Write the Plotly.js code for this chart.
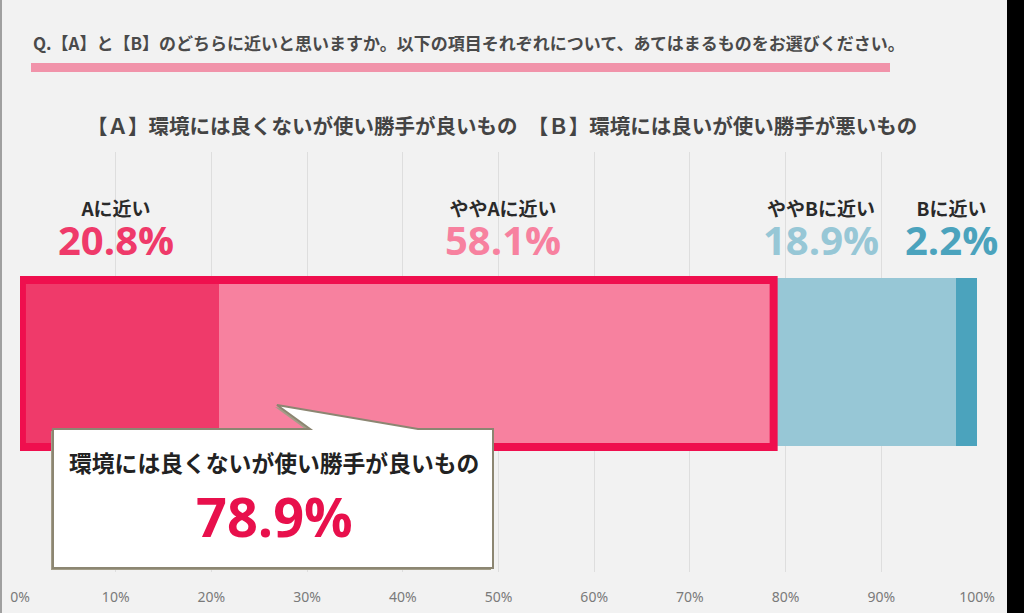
<!DOCTYPE html>
<html>
<head>
<meta charset="utf-8">
<script src="https://cdn.plot.ly/plotly-3.0.1.min.js"></script>
<style>
  html, body { margin: 0; padding: 0; background: #f2f2f2; }
  #chart { width: 1024px; height: 613px; }
</style>
</head>
<body>
<div id="chart"></div>
<script>
// answer categories and shares (%)
const categories = ['Aに近い', 'ややAに近い', 'ややBに近い', 'Bに近い'];
const shares = [20.8, 58.1, 18.9, 2.2];
const barColors = ['#ef3a6a', '#f7819f', '#97c7d6', '#4ba3bd'];
const tickValues = [0, 10, 20, 30, 40, 50, 60, 70, 80, 90, 100];
const tickLabels = tickValues.map(v => v + '%');

const questionText = 'Q.【A】と【B】のどちらに近いと思いますか。以下の項目それぞれについて、あてはまるものをお選びください。';
const subtitleText = '【Ａ】環境には良くないが使い勝手が良いもの　【Ｂ】環境には良いが使い勝手が悪いもの';
const calloutLabel = '環境には良くないが使い勝手が良いもの';

// plot area in pixels
const W = 1024, H = 613;
const M = {l: 20, r: 47, t: 152, b: 41};
const plotW = W - M.l - M.r, plotH = H - M.t - M.b;
const X = px => (px - M.l) / plotW;          // pixel -> paper x
const Y = py => (H - M.b - py) / plotH;      // pixel -> paper y

// cumulative positions for the stacked bar
const starts = [];
let acc = 0;
shares.forEach(v => { starts.push(acc); acc += v; });
const aTotal = shares[0] + shares[1];

const traces = categories.map((name, i) => ({
  type: 'bar',
  orientation: 'h',
  name: name,
  x: [shares[i]],
  y: [0],
  width: 0.8,
  marker: {color: barColors[i], line: {width: 0}},
  hoverinfo: 'none'
}));

const jp = '"Noto Sans CJK JP", "Noto Sans", sans-serif';
const num = '"Open Sans", "Noto Sans", sans-serif';
const labelShift = [-4, 6, -45, -15];

function note(x, y, xref, yref, text, font, extra) {
  return Object.assign({
    x: x, y: y, xref: xref, yref: yref, xanchor: 'center', yanchor: 'middle',
    text: text, showarrow: false, font: font
  }, extra || {});
}

const annotations = [];
// category name over its share, one text block each
categories.forEach((name, i) => {
  const mid = starts[i] + shares[i] / 2;
  const txt = '<span style="font-size:19px;fill:#2a2a2a">' + name + '</span><br>' +
              '<span style="font-size:40px;font-family:\'Open Sans\'">' + shares[i].toFixed(1) + '%</span>';
  annotations.push(note(mid, 0.626, 'x', 'y', '<b>' + txt + '</b>',
    {family: jp, size: 30, color: barColors[i]}, {xshift: labelShift[i]}));
});

// title, subtitle
annotations.push(note(X(31), Y(42), 'paper', 'paper', '<b>' + questionText + '</b>',
  {family: jp, size: 17, color: '#4a4a4a'}, {xanchor: 'left'}));
annotations.push(note(X(502), Y(125), 'paper', 'paper', '<b>' + subtitleText + '</b>',
  {family: jp, size: 20.5, color: '#444444'}));

// callout texts
annotations.push(note(X(274), Y(462), 'paper', 'paper', '<b>' + calloutLabel + '</b>',
  {family: jp, size: 22.8, color: '#222222'}, {height: 28}));
annotations.push(note(X(274), Y(516), 'paper', 'paper', '<b>' + aTotal.toFixed(1) + '%</b>',
  {family: num, size: 54, color: '#e8104c'}, {height: 50}));

function calloutPath(dx, dy) {
  const p = [[53, 429], [310, 429], [277, 405], [418, 429], [493, 429], [493, 568], [53, 568]];
  return 'M' + p.map(q => X(q[0] + dx) + ',' + Y(q[1] + dy)).join(' L') + ' Z';
}

const shapes = [
  // pink underline of the question
  {type: 'rect', xref: 'paper', yref: 'paper', x0: X(31), x1: X(890), y0: Y(72), y1: Y(63),
   fillcolor: '#f193aa', line: {width: 0}},
  // outline around A-side total
  {type: 'rect', xref: 'x', yref: 'y', x0: 0.2, x1: aTotal - 0.15, y0: -0.405, y1: 0.39,
   line: {color: '#ef0f4e', width: 8}, fillcolor: 'rgba(0,0,0,0)'},
  // callout shadow + box
  {type: 'path', xref: 'paper', yref: 'paper', path: calloutPath(-2, 2),
   fillcolor: '#a39d88', line: {width: 0}},
  {type: 'path', xref: 'paper', yref: 'paper', path: calloutPath(0, 0),
   fillcolor: '#ffffff', line: {color: '#8c8672', width: 2}},
  // frame edges of the picture
  {type: 'line', xref: 'paper', yref: 'paper', x0: X(1), x1: X(1), y0: Y(-5), y1: Y(620),
   line: {color: '#a0a0a0', width: 2}},
  {type: 'rect', xref: 'paper', yref: 'paper', x0: X(1007), x1: X(1030), y0: Y(-5), y1: Y(620),
   fillcolor: '#000000', line: {width: 0}}
];

const layout = {
  width: W, height: H,
  margin: M,
  paper_bgcolor: '#f2f2f2',
  plot_bgcolor: '#f2f2f2',
  barmode: 'stack',
  bargap: 0,
  showlegend: false,
  xaxis: {
    range: [0, 100],
    tickmode: 'array',
    tickvals: tickValues,
    ticktext: tickLabels,
    showgrid: true,
    gridcolor: '#dedede',
    gridwidth: 1,
    zeroline: false,
    showline: false,
    ticks: 'outside',
    ticklen: 12,
    tickcolor: 'rgba(0,0,0,0)',
    tickfont: {family: '"Noto Sans", sans-serif', size: 14, color: '#7a7a7a'},
    fixedrange: true
  },
  yaxis: {range: [-1, 1], visible: false, fixedrange: true},
  annotations: annotations,
  shapes: shapes
};

Plotly.newPlot('chart', traces, layout, {displayModeBar: false, staticPlot: true});
</script>
</body>
</html>
